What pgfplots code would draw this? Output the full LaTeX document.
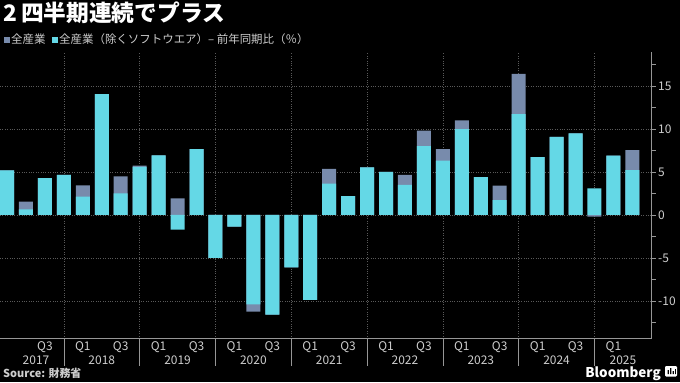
\documentclass[border=0pt]{standalone}
\usepackage{fontspec}
\setmainfont{Noto Sans CJK JP}
\usepackage{pgfplots}
\pgfplotsset{compat=1.18}
\definecolor{cyanbar}{RGB}{100,216,230}
\definecolor{slatebar}{RGB}{120,139,172}
\definecolor{ticktxt}{RGB}{205,205,205}
\definecolor{axline}{RGB}{150,150,150}
\definecolor{gridc}{RGB}{90,90,90}
\begin{document}
\begin{tikzpicture}[x=1bp,y=1bp]
\useasboundingbox (0,0) rectangle (680,382);
\fill[black] (0,0) rectangle (680,382);
\begin{axis}[
  at={(0,50.8)}, anchor=south west,
  scale only axis, width=651.7bp, height=286.7bp,
  xmin=-0.37, xmax=34.02, ymin=-14.35, ymax=19.0,
  axis x line*=bottom, axis y line*=right,
  axis line style={draw=axline, line width=0.6pt},
  xtick={2,4,...,32},
  xticklabels={Q3,Q1,Q3,Q1,Q3,Q1,Q3,Q1,Q3,Q1,Q3,Q1,Q3,Q1,Q3,Q1},
  xtick style={draw=none},
  minor xtick={1,5,...,33},
  extra x ticks={3,7,...,31}, extra x tick labels={},
  extra x tick style={grid=major, major tick length=0pt},
  ytick={-10,-5,0,5,10,15},
  yticklabels={-10,-5,0,5,10,15},
  minor ytick={-12.5,-7.5,-2.5,2.5,7.5,12.5,17.5},
  ymajorgrids,
  major grid style={draw=gridc, dotted, line width=0.6pt},
  tick align=outside, major tick length=4bp, minor tick length=4bp,
  every tick/.style={draw=axline, line width=0.6pt},
  ticklabel style={font=\fontsize{12}{14}\selectfont, text=ticktxt},
  xticklabel style={yshift=4bp},
  yticklabel style={xshift=-1bp},
  ybar, bar width=0.74,
  clip=false,
]
\addplot[fill=slatebar, draw=none, bar shift=0pt] coordinates {
(0,5.2) (1,1.55) (2,4.3) (3,4.65) (4,3.45) (5,14.07) (6,4.5) (7,5.73)
(8,6.93) (9,1.93) (10,7.67) (11,-5.0) (12,-1.36) (13,-11.24) (14,-11.6) (15,-6.09)
(16,-9.89) (17,5.35) (18,2.2) (19,5.54) (20,5.0) (21,4.65) (22,9.8) (23,7.67)
(24,11.0) (25,4.41) (26,3.4) (27,16.4) (28,6.74) (29,9.07) (30,9.49) (31,-0.2)
(32,6.9) (33,7.55)};
\addplot[fill=cyanbar, draw=none, bar shift=0pt] coordinates {
(0,5.2) (1,0.65) (2,4.3) (3,4.65) (4,2.13) (5,14.07) (6,2.5) (7,5.58)
(8,6.93) (9,-1.7) (10,7.67) (11,-5.0) (12,-1.36) (13,-10.4) (14,-11.6) (15,-6.09)
(16,-9.89) (17,3.64) (18,2.2) (19,5.54) (20,5.0) (21,3.49) (22,8.02) (23,6.31)
(24,10.0) (25,4.41) (26,1.74) (27,11.74) (28,6.74) (29,9.07) (30,9.49) (31,3.1)
(32,6.9) (33,5.23)};
\pgfplotsinvokeforeach{3,7,11,15,19,23,27,31}{
  \draw[axline, line width=0.6pt] (axis cs:#1,-14.35) -- ([yshift=-28bp]axis cs:#1,-14.35);
}
\node[anchor=base, yshift=-26bp, text=ticktxt, font=\fontsize{12}{14}\selectfont] at (axis cs:1.53,-14.35) {2017};
\node[anchor=base, yshift=-26bp, text=ticktxt, font=\fontsize{12}{14}\selectfont] at (axis cs:5,-14.35) {2018};
\node[anchor=base, yshift=-26bp, text=ticktxt, font=\fontsize{12}{14}\selectfont] at (axis cs:9,-14.35) {2019};
\node[anchor=base, yshift=-26bp, text=ticktxt, font=\fontsize{12}{14}\selectfont] at (axis cs:13,-14.35) {2020};
\node[anchor=base, yshift=-26bp, text=ticktxt, font=\fontsize{12}{14}\selectfont] at (axis cs:17,-14.35) {2021};
\node[anchor=base, yshift=-26bp, text=ticktxt, font=\fontsize{12}{14}\selectfont] at (axis cs:21,-14.35) {2022};
\node[anchor=base, yshift=-26bp, text=ticktxt, font=\fontsize{12}{14}\selectfont] at (axis cs:25,-14.35) {2023};
\node[anchor=base, yshift=-26bp, text=ticktxt, font=\fontsize{12}{14}\selectfont] at (axis cs:29,-14.35) {2024};
\node[anchor=base, yshift=-26bp, text=ticktxt, font=\fontsize{12}{14}\selectfont] at (axis cs:32.5,-14.35) {2025};
\end{axis}
\node[anchor=base west, text=white, inner sep=0pt, font=\fontsize{22.8}{25}\selectfont\bfseries] at (3,360.5) {2\hspace{4bp}四半期連続でプラス};
\fill[slatebar] (4,339.5) rectangle (10,345.5);
\node[anchor=base west, text=ticktxt, inner sep=0pt, font=\fontsize{11.5}{13}\selectfont] at (11,338.5) {全産業};
\fill[cyanbar] (52,339.5) rectangle (58,345.5);
\node[anchor=base west, text=ticktxt, inner sep=0pt, font=\fontsize{11.5}{13}\selectfont] at (59,338.5) {全産業（除くソフトウエア）– 前年同期比（％）};
\node[anchor=base west, text=ticktxt, inner sep=0pt, font=\fontsize{11}{13}\selectfont\bfseries] at (3,4.5) {Source: 財務省};
\node[anchor=base east, text=white, inner sep=0pt, font=\fontsize{13.5}{15}\selectfont\bfseries] at (661,5) {Bloomberg};
\fill[white, rounded corners=1.2bp] (665,5.5) rectangle (677,16);
\fill[black] (667.5,8) rectangle (668.8,12) (670,8) rectangle (671.3,14) (672.5,8) rectangle (673.8,11) (675,8) rectangle (675.8,13);
\end{tikzpicture}
\end{document}
